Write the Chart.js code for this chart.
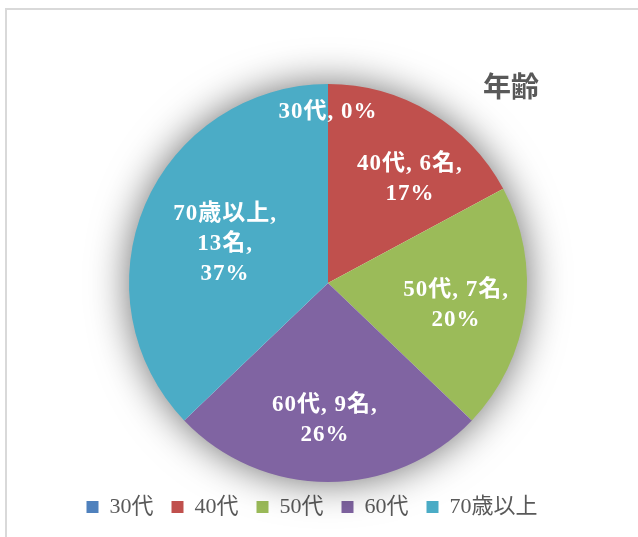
<!DOCTYPE html>
<html lang="ja">
<head>
<meta charset="utf-8">
<title>年齢</title>
<script src="https://cdn.jsdelivr.net/npm/chart.js@4.4.1/dist/chart.umd.min.js"></script>
<style>
  html, body { margin: 0; padding: 0; background: #fff; }
  body { width: 638px; height: 537px; overflow: hidden; position: relative; }
  #frame { position: absolute; left: 5px; top: 8px; width: 700px; height: 600px; border: 2px solid #d9d9d9; }
  #wrap { position: absolute; left: 0; top: 0; width: 638px; height: 537px; }
</style>
</head>
<body>
<div id="frame"></div>
<div id="wrap"><canvas id="chart"></canvas></div>
<script>
const chartTitle = '年齢';
const categories = ['30代', '40代', '50代', '60代', '70歳以上'];
const counts = [0, 6, 7, 9, 13];
const colors = ['#4f81bd', '#c0504d', '#9bbb59', '#8064a2', '#4bacc6'];

const serif = '"Liberation Serif", "Noto Sans CJK JP", serif';

function labelLines(i) {
    const total = counts.reduce((a, b) => a + b, 0);
    const pct = Math.round(counts[i] / total * 100) + '%';
    if (counts[i] === 0) return [categories[i] + ', ' + pct];
    if (categories[i].length > 3) return [categories[i] + ',', counts[i] + '名,', pct];
    return [categories[i] + ', ' + counts[i] + '名,', pct];
}

// where each label sits: [fraction of radius, angle nudge in degrees]
const labelPlace = [[0.86, 0], [0.665, 7.4], [0.653, 2], [0.69, 1.3], [0.553, -2.4]];

const pieExtras = {
    id: 'pieExtras',
    afterLayout(chart) {
        // legend sits a bit left of the pie in the original
        chart.legend.left -= 16;
        chart.legend.right -= 16;
    },
    beforeDatasetsDraw(chart) {
        const arc = chart.getDatasetMeta(0).data[0];
        const ctx = chart.ctx;
        ctx.save();
        ctx.shadowColor = 'rgba(0,0,0,0.6)';
        ctx.shadowBlur = 40;
        ctx.fillStyle = '#fff';
        ctx.beginPath();
        ctx.arc(arc.x, arc.y, arc.outerRadius - 1, 0, Math.PI * 2);
        ctx.fill();
        ctx.restore();
    },
    afterDatasetsDraw(chart) {
        const ctx = chart.ctx;
        const lineH = 30;
        ctx.save();
        ctx.font = 'bold 23px ' + serif;
        ctx.letterSpacing = '1px';
        ctx.fillStyle = '#fff';
        ctx.textAlign = 'center';
        ctx.textBaseline = 'middle';
        chart.getDatasetMeta(0).data.forEach((arc, i) => {
            const [frac, nudge] = labelPlace[i];
            const mid = (arc.startAngle + arc.endAngle) / 2 + nudge * Math.PI / 180;
            const cx = arc.x + Math.cos(mid) * arc.outerRadius * frac;
            const cy = arc.y + Math.sin(mid) * arc.outerRadius * frac;
            const lines = labelLines(i);
            const y0 = cy - (lines.length - 1) * lineH / 2;
            lines.forEach((t, k) => ctx.fillText(t, cx, y0 + k * lineH));
        });
        ctx.restore();
    },
    afterDraw(chart) {
        const ctx = chart.ctx;
        ctx.save();
        ctx.font = 'bold 28px "Noto Sans CJK JP", sans-serif';
        ctx.fillStyle = '#595959';
        ctx.textAlign = 'center';
        ctx.textBaseline = 'middle';
        ctx.fillText(chartTitle, chart.width - 127, 86);
        ctx.restore();
    }
};

new Chart(document.getElementById('chart').getContext('2d'), {
    type: 'pie',
    data: {
        labels: categories,
        datasets: [{
            data: counts,
            backgroundColor: colors,
            borderWidth: 0,
            radius: 199
        }]
    },
    options: {
        responsive: true,
        maintainAspectRatio: false,
        animation: false,
        events: [],
        layout: { padding: { left: 18, right: 0, top: 88, bottom: 9 } },
        plugins: {
            tooltip: { enabled: false },
            legend: {
                position: 'bottom',
                labels: {
                    boxWidth: 12,
                    boxHeight: 12,
                    padding: 18,
                    color: '#595959',
                    font: { family: serif, size: 22 }
                }
            }
        }
    },
    plugins: [pieExtras]
});
</script>
</body>
</html>
